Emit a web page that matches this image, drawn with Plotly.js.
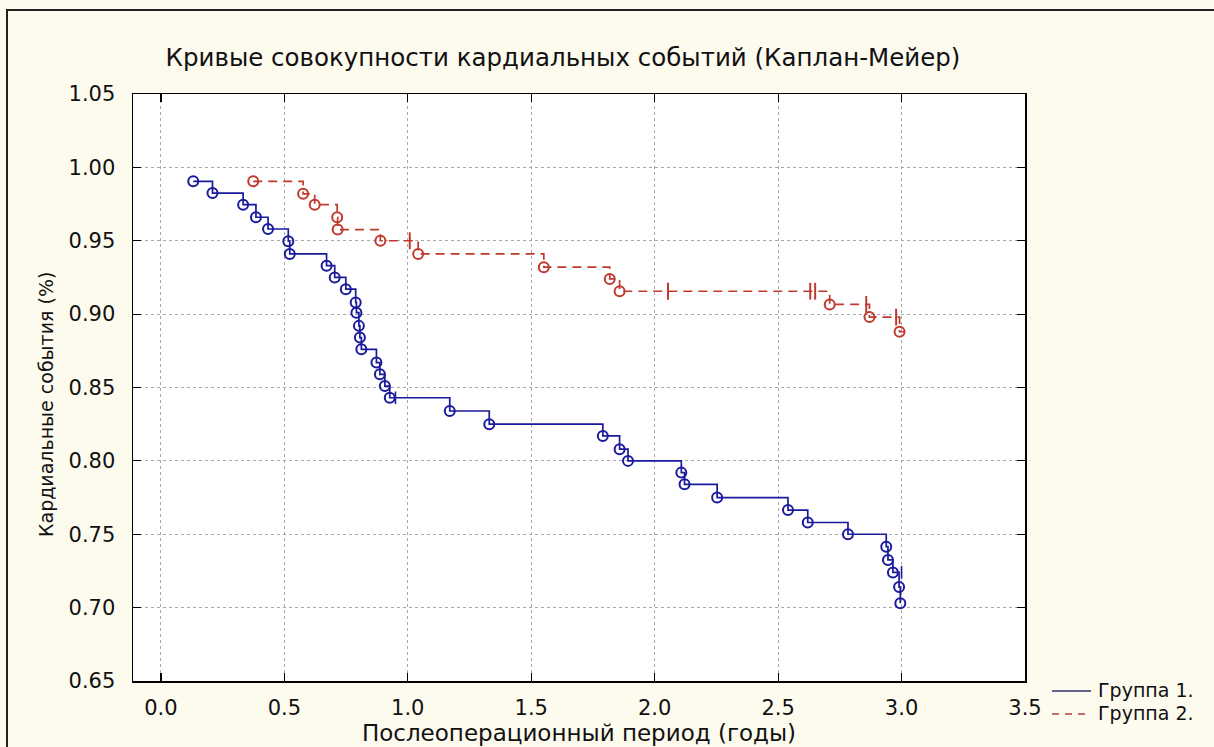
<!DOCTYPE html>
<html>
<head>
<meta charset="utf-8">
<script src="https://cdn.plot.ly/plotly-3.0.1.min.js"></script>
<style>html,body{margin:0;padding:0;background:#fdfaee;}</style>
</head>
<body>
<div id="chart" style="width:1214px;height:747px;"></div>
<script>
// Group 1 (events)
const g1Time = [0.131, 0.209, 0.333, 0.385, 0.434, 0.516, 0.522, 0.671, 0.704, 0.749, 0.789, 0.792, 0.802, 0.806, 0.812, 0.873, 0.887, 0.907, 0.927, 1.17, 1.33, 1.79, 1.858, 1.892, 2.108, 2.121, 2.253, 2.54, 2.62, 2.783, 2.938, 2.945, 2.965, 2.99, 2.995];
const g1Surv = [0.9905, 0.9825, 0.9746, 0.966, 0.958, 0.9497, 0.941, 0.933, 0.925, 0.917, 0.908, 0.901, 0.892, 0.884, 0.876, 0.867, 0.859, 0.851, 0.843, 0.834, 0.825, 0.817, 0.808, 0.800, 0.792, 0.784, 0.775, 0.7665, 0.758, 0.750, 0.7415, 0.7325, 0.724, 0.714, 0.703];
const g1CensTime = [0.95, 3.0];
const g1CensSurv = [0.843, 0.724];
// Group 2 (events)
const g2Time = [0.374, 0.576, 0.623, 0.714, 0.716, 0.889, 1.042, 1.551, 1.818, 1.858, 2.709, 2.87, 2.992, 3.01];
const g2Surv = [0.9905, 0.982, 0.9746, 0.966, 0.9576, 0.950, 0.941, 0.932, 0.924, 0.9156, 0.9066, 0.898, 0.888, 0.888];
const g2MarkTime = g2Time.slice(0, 13);
const g2MarkSurv = g2Surv.slice(0, 13);
const g2CensTime = [1.008, 2.054, 2.63, 2.65, 2.857, 2.978];
const g2CensSurv = [0.950, 0.9156, 0.9156, 0.9156, 0.9066, 0.898];

const xTicks = [0, 0.5, 1.0, 1.5, 2.0, 2.5, 3.0, 3.5];
const yTicks = [0.65, 0.70, 0.75, 0.80, 0.85, 0.90, 0.95, 1.00, 1.05];
const title = 'Кривые совокупности кардиальных событий (Каплан-Мейер)';
const xTitle = 'Послеоперационный период (годы)';
const yTitle = 'Кардиальные события (%)';
const names = ['Группа 1.', 'Группа 2.'];

const blue = '#1a1a9c';
const red = '#c0392f';

const traces = [
  {x: g1Time, y: g1Surv, mode: 'lines', line: {shape: 'hv', color: blue, width: 1.7}, name: names[0], showlegend: false},
  {x: g1Time, y: g1Surv, mode: 'markers', marker: {symbol: 'circle-open', size: 10, color: blue, line: {width: 2, color: blue}}, showlegend: false, hoverinfo: 'skip'},
  {x: g1CensTime, y: g1CensSurv, mode: 'markers', marker: {symbol: 'line-ns', size: 9, line: {width: 1.6, color: blue}}, showlegend: false, hoverinfo: 'skip'},
  {x: g2Time, y: g2Surv, mode: 'lines', line: {shape: 'hv', color: red, width: 1.7, dash: '9px,6px'}, name: names[1], showlegend: false},
  {x: g2MarkTime, y: g2MarkSurv, mode: 'markers', marker: {symbol: 'circle-open', size: 10, color: red, line: {width: 2, color: red}}, showlegend: false, hoverinfo: 'skip'},
  {x: g2CensTime, y: g2CensSurv, mode: 'markers', marker: {symbol: 'line-ns', size: 12, line: {width: 2, color: red}}, showlegend: false, hoverinfo: 'skip'}
];

// pixel -> paper helpers for the hand-drawn legend (plot area: x 133..1025, y 94..681)
const px = x => (x - 133) / 892;
const py = y => (681 - y) / 587;

const font = 'DejaVu Sans, sans-serif';
const tickFont = {family: font, size: 21, color: '#111'};
const layout = {
  width: 1214, height: 747,
  paper_bgcolor: '#fdfaee',
  plot_bgcolor: '#ffffff',
  margin: {l: 133, r: 189, t: 94, b: 66},
  title: {text: title, font: {family: font, size: 24.5, color: '#111'}, x: 563 / 1214, xanchor: 'center', xref: 'container', y: 1 - 57 / 747, yanchor: 'middle', yref: 'container'},
  xaxis: {
    range: [-0.113, 3.5], tickvals: xTicks, ticktext: xTicks.map(v => v.toFixed(1)),
    ticks: 'inside', ticklen: 8, tickwidth: 1.2, tickcolor: '#000', ticklabelstandoff: 7,
    showline: true, linecolor: '#000', linewidth: 1.5, mirror: 'ticks',
    showgrid: true, gridcolor: '#a8a8a8', griddash: 'dot', gridwidth: 1,
    zeroline: false, tickfont: tickFont,
    title: {text: xTitle, font: {family: font, size: 23, color: '#111'}, standoff: 1}
  },
  yaxis: {
    range: [0.65, 1.05], tickvals: yTicks, ticktext: yTicks.map(v => v.toFixed(2)),
    ticks: 'inside', ticklen: 8, tickwidth: 1.2, tickcolor: '#000', ticklabelstandoff: 12,
    showline: true, linecolor: '#000', linewidth: 1.5, mirror: 'ticks',
    showgrid: true, gridcolor: '#a8a8a8', griddash: 'dot', gridwidth: 1,
    zeroline: false, tickfont: tickFont
  },
  shapes: [
    {type: 'rect', xref: 'paper', yref: 'paper', x0: px(7), x1: px(1240), y0: py(770), y1: py(10), line: {color: '#222', width: 2}, fillcolor: 'rgba(0,0,0,0)', layer: 'below'},
    {type: 'line', xref: 'paper', yref: 'paper', x0: px(1052), x1: px(1091), y0: py(691), y1: py(691), line: {color: '#30306e', width: 1.7}},
    {type: 'line', xref: 'paper', yref: 'paper', x0: px(1052), x1: px(1091), y0: py(714), y1: py(714), line: {color: '#b04040', width: 1.7, dash: '7px,6px'}}
  ],
  annotations: [
    {text: yTitle, xref: 'paper', yref: 'paper', x: px(46), y: py(405), xanchor: 'center', yanchor: 'middle', textangle: -90, showarrow: false, font: {family: font, size: 19, color: '#111'}},
    {text: names[0], xref: 'paper', yref: 'paper', x: px(1096), y: py(690), xanchor: 'left', yanchor: 'middle', showarrow: false, font: {family: font, size: 19, color: '#111'}},
    {text: names[1], xref: 'paper', yref: 'paper', x: px(1096), y: py(713), xanchor: 'left', yanchor: 'middle', showarrow: false, font: {family: font, size: 19, color: '#111'}}
  ],
  showlegend: false
};

Plotly.newPlot('chart', traces, layout, {displayModeBar: false, staticPlot: true});
</script>
</body>
</html>
